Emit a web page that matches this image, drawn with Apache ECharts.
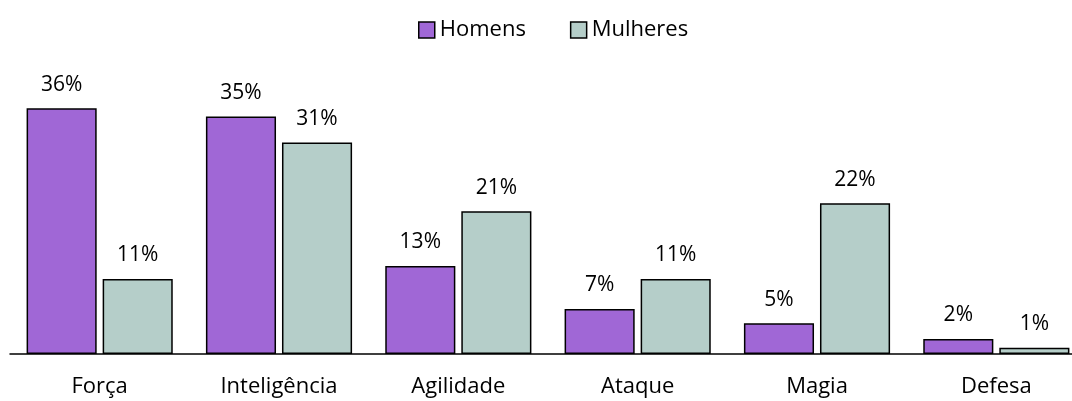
<!DOCTYPE html>
<html>
<head>
<meta charset="utf-8">
<script src="https://cdn.jsdelivr.net/npm/echarts@6/dist/echarts.min.js"></script>
<style>
  html, body { margin: 0; padding: 0; background: #fff; overflow: hidden; }
  #chart { width: 1086px; height: 401px; }
</style>
</head>
<body>
<div id="chart"></div>
<script>
// valores (em %)
const categorias = ['Força', 'Inteligência', 'Agilidade', 'Ataque', 'Magia', 'Defesa'];
const homens = [36, 34.8, 12.9, 6.6, 4.5, 2.2];
const mulheres = [11, 31, 20.9, 11, 22.1, 0.9];

const fonte = 'Open Sans, Noto Sans, sans-serif';

const chart = echarts.init(document.getElementById('chart'));

function serie(nome, dados, cor) {
  return {
    name: nome,
    type: 'bar',
    data: dados,
    barGap: '8.5%',
    barCategoryGap: '18.5%',
    itemStyle: { color: cor, borderColor: '#000', borderWidth: 1.5 },
    label: {
      show: true,
      position: 'top',
      distance: 13,
      color: '#000',
      fontFamily: fonte,
      fontSize: 21,
      formatter: p => Math.round(p.value) + '%'
    }
  };
}

chart.setOption({
  animation: false,
  legend: {
    top: 14,
    left: 413,
    itemWidth: 16,
    itemHeight: 16,
    itemGap: 44,
    textStyle: { fontFamily: fonte, fontSize: 22, color: '#000' },
    data: [
      { name: 'Homens', icon: 'rect', itemStyle: { borderColor: '#000', borderWidth: 1.5 } },
      { name: 'Mulheres', icon: 'rect', itemStyle: { borderColor: '#000', borderWidth: 1.5 } }
    ]
  },
  grid: { left: 10, right: 0, top: 81, bottom: 47, containLabel: false },
  xAxis: {
    type: 'category',
    data: categorias,
    axisLine: { lineStyle: { color: '#000', width: 1.5 } },
    axisTick: { show: false },
    axisLabel: { color: '#000', fontFamily: fonte, fontSize: 22, margin: 22 }
  },
  yAxis: {
    type: 'value',
    min: 0,
    max: 40,
    show: false,
    splitLine: { show: false }
  },
  series: [
    serie('Homens', homens, '#A067D6'),
    serie('Mulheres', mulheres, '#B5CEC9')
  ]
});
</script>
</body>
</html>
